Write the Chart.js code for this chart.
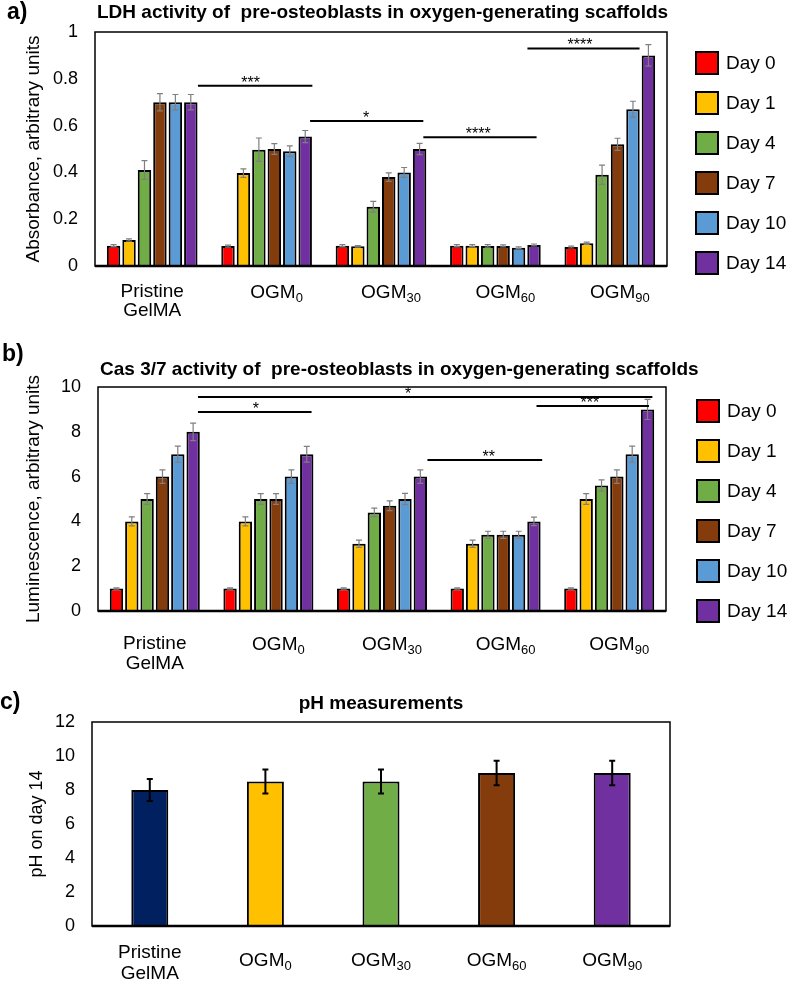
<!DOCTYPE html>
<html lang="en">
<head>
<meta charset="UTF-8">
<title>LDH, Cas 3/7 and pH of pre-osteoblasts in oxygen-generating scaffolds</title>
<script src="https://cdn.jsdelivr.net/npm/chart.js"></script>
<style>
    body{margin:0;background:#fff;width:789px;height:983px;position:relative;overflow:hidden}
    .panel{position:absolute;left:0;width:789px}
    #panelA{top:0;height:330px}
    #panelB{top:330px;height:360px}
    #panelC{top:690px;height:293px}
</style>
</head>
<body>
<div class="panel" id="panelA"><canvas id="ldhChart"></canvas></div>
<div class="panel" id="panelB"><canvas id="casChart"></canvas></div>
<div class="panel" id="panelC"><canvas id="phChart"></canvas></div>
<script>
// ---- data ----
const groups = ['Pristine GelMA', 'OGM0', 'OGM30', 'OGM60', 'OGM90'];
const days = ['Day 0', 'Day 1', 'Day 4', 'Day 7', 'Day 10', 'Day 14'];

// a) LDH absorbance, one array per day (across groups)
const ldhDay0  = [0.087, 0.085, 0.087, 0.087, 0.081];
const ldhDay1  = [0.111, 0.397, 0.084, 0.087, 0.097];
const ldhDay4  = [0.41, 0.497, 0.253, 0.086, 0.39];
const ldhDay7  = [0.70, 0.50, 0.38, 0.086, 0.52];
const ldhDay10 = [0.70, 0.49, 0.40, 0.078, 0.67];
const ldhDay14 = [0.70, 0.553, 0.50, 0.09, 0.90];
const ldhErr0  = [0.004, 0.004, 0.004, 0.004, 0.004];
const ldhErr1  = [0.005, 0.018, 0.003, 0.004, 0.005];
const ldhErr4  = [0.04, 0.05, 0.023, 0.005, 0.041];
const ldhErr7  = [0.037, 0.023, 0.018, 0.004, 0.026];
const ldhErr10 = [0.033, 0.023, 0.021, 0.004, 0.034];
const ldhErr14 = [0.033, 0.026, 0.024, 0.004, 0.046];
const ldhTicks = [0, 0.2, 0.4, 0.6, 0.8, 1];
// significance bars (category units / y units)
const ldhSigFrom = [0.40, 1.38, 2.37, 3.28];
const ldhSigTo   = [1.40, 2.37, 3.36, 4.26];
const ldhSigY    = [0.77, 0.62, 0.55, 0.93];
const ldhSigAt   = [0.86, 1.87, 2.85, 3.74];
const ldhSigText = ['***', '*', '****', '****'];

// b) Cas 3/7 luminescence
const casDay0  = [1, 1, 1, 1, 1];
const casDay1  = [4, 4, 3, 3, 5];
const casDay4  = [5, 5, 4.4, 3.4, 5.6];
const casDay7  = [6, 5, 4.7, 3.4, 6];
const casDay10 = [7, 6, 5, 3.4, 7];
const casDay14 = [8, 7, 6, 4, 9];
const casErr0  = [0.03, 0.03, 0.03, 0.03, 0.03];
const casErr1  = [0.2, 0.2, 0.16, 0.16, 0.24];
const casErr4  = [0.24, 0.24, 0.19, 0.16, 0.25];
const casErr7  = [0.3, 0.24, 0.22, 0.16, 0.3];
const casErr10 = [0.36, 0.3, 0.25, 0.16, 0.36];
const casErr14 = [0.39, 0.35, 0.3, 0.19, 0.45];
const casTicks = [0, 2, 4, 6, 8, 10];
const casSigFrom = [0.38, 0.38, 2.40, 3.36];
const casSigTo   = [4.38, 1.38, 3.41, 4.35];
const casSigY    = [9.55, 8.88, 6.74, 9.15];
const casSigAt   = [2.23, 0.89, 2.94, 3.83];
const casSigText = ['*', '*', '**', '***'];

// c) pH on day 14
const phValues = [8, 8.5, 8.5, 9, 9];
const phErr    = [0.65, 0.7, 0.7, 0.72, 0.72];
const phTicks  = [0, 2, 4, 6, 8, 10, 12];

// ---- styles ----
const FONT = "'Liberation Sans', Arial, Helvetica, sans-serif";
const dayColors = ['#FF0000', '#FFC000', '#70AD47', '#843C0C', '#5B9BD5', '#7030A0'];
const phColors = ['#002060', '#FFC000', '#70AD47', '#843C0C', '#7030A0'];

const deco = {
    id: 'deco',
    afterDatasetsDraw(chart, args, o) {
        const {ctx, chartArea: a, scales: {x, y}} = chart;
        ctx.save();
        // error bars
        chart.data.datasets.forEach((ds, i) => {
            chart.getDatasetMeta(i).data.forEach((bar, j) => {
                const v = ds.data[j], e = ds.errors[j];
                const t = y.getPixelForValue(v + e), b = y.getPixelForValue(v - e);
                ctx.strokeStyle = o.errColor;
                ctx.lineWidth = o.errWidth;
                ctx.beginPath();
                ctx.moveTo(bar.x, t); ctx.lineTo(bar.x, b);
                ctx.moveTo(bar.x - o.cap, t); ctx.lineTo(bar.x + o.cap, t);
                ctx.moveTo(bar.x - o.cap, b); ctx.lineTo(bar.x + o.cap, b);
                ctx.stroke();
            });
        });
        // plot frame
        ctx.strokeStyle = '#000';
        ctx.lineWidth = 1.5;
        ctx.strokeRect(a.left, a.top, a.width, a.height);
        ctx.lineWidth = 2.5;
        ctx.beginPath(); ctx.moveTo(a.left, a.bottom); ctx.lineTo(a.right, a.bottom); ctx.stroke();

        // significance bars
        if (o.sig) {
            ctx.lineWidth = 2;
            ctx.fillStyle = '#000';
            ctx.font = '16px ' + FONT;
            ctx.textAlign = 'center';
            ctx.textBaseline = 'alphabetic';
            o.sig.from.forEach((f, k) => {
                const yy = y.getPixelForValue(o.sig.y[k]);
                ctx.beginPath();
                ctx.moveTo(x.getPixelForValue(f), yy);
                ctx.lineTo(x.getPixelForValue(o.sig.to[k]), yy);
                ctx.stroke();
                ctx.fillText(o.sig.text[k], x.getPixelForValue(o.sig.at[k]), yy + 2);
            });
        }

        // legend
        if (o.legend) {
            chart.data.datasets.forEach((ds, i) => {
                const cy = o.legend.top + i * o.legend.step;
                ctx.fillStyle = ds.backgroundColor;
                ctx.fillRect(o.legend.x, cy - 11, 22, 22);
                ctx.lineWidth = 2;
                ctx.strokeStyle = '#000';
                ctx.strokeRect(o.legend.x, cy - 11, 22, 22);
                ctx.fillStyle = '#000';
                ctx.font = '19px ' + FONT;
                ctx.textAlign = 'left';
                ctx.textBaseline = 'middle';
                ctx.fillText(ds.label, o.legend.x + 30, cy + 1);
            });
        }

        // category labels with subscripts
        ctx.fillStyle = '#000';
        ctx.textBaseline = 'alphabetic';
        groups.forEach((g, i) => {
            const cx = x.getPixelForValue(i);
            if (g.startsWith('OGM')) {
                const main = 'OGM', sub = g.slice(3);
                ctx.font = '19px ' + FONT;
                const w1 = ctx.measureText(main).width;
                ctx.font = '13px ' + FONT;
                const w2 = ctx.measureText(sub).width;
                const left = cx + o.lab.shift - (w1 + w2) / 2;
                ctx.textAlign = 'left';
                ctx.font = '19px ' + FONT;
                ctx.fillText(main, left, a.bottom + o.lab.ogm);
                ctx.font = '13px ' + FONT;
                ctx.fillText(sub, left + w1, a.bottom + o.lab.ogm + 4);
            } else {
                const parts = g.split(' ');
                ctx.font = '19px ' + FONT;
                ctx.textAlign = 'center';
                ctx.fillText(parts[0], cx, a.bottom + o.lab.line1);
                ctx.fillText(parts[1], cx, a.bottom + o.lab.line1 + o.lab.gap);
            }
        });

        // title and panel letter
        ctx.font = 'bold 19px ' + FONT;
        if (o.title.center) {
            ctx.textAlign = 'center';
            ctx.fillText(o.title.text, (a.left + a.right) / 2, o.title.base);
        } else {
            ctx.textAlign = 'left';
            ctx.fillText(o.title.text, a.left + 2, o.title.base);
        }
        ctx.font = 'bold 23px ' + FONT;
        ctx.textAlign = 'left';
        ctx.fillText(o.letter.text, o.letter.x, o.letter.base);
        ctx.restore();
    }
};

function options(ticks, yTitle, lay, dec) {
    return {
        responsive: true,
        maintainAspectRatio: false,
        animation: false,
        layout: {padding: {top: lay.top, right: lay.right, left: 0, bottom: 0}},
        plugins: {legend: {display: false}, tooltip: {enabled: false}, deco: dec},
        scales: {
            x: {
                grid: {display: false, drawTicks: false},
                border: {display: false},
                ticks: {display: false},
                afterFit: s => { s.height = lay.xh; }
            },
            y: {
                min: ticks[0],
                max: ticks[ticks.length - 1],
                grid: {display: false, drawTicks: false},
                border: {display: false},
                ticks: {
                    stepSize: ticks[1] - ticks[0],
                    padding: 17,
                    color: '#000',
                    font: {family: FONT, size: 18},
                    callback: v => String(+v.toFixed(1))
                },
                title: {display: true, text: yTitle, color: '#000', font: {family: FONT, size: lay.ts}, padding: {top: lay.tp}},
                afterFit: s => { s.width = lay.left; }
            }
        }
    };
}

function dayDatasets(means, errs) {
    return days.map((d, i) => ({
        label: d,
        data: means[i],
        errors: errs[i],
        backgroundColor: dayColors[i],
        borderColor: '#000',
        borderWidth: 2,
        categoryPercentage: 0.81,
        barPercentage: 0.87
    }));
}

new Chart(document.getElementById('ldhChart'), {
    type: 'bar',
    data: {
        labels: groups,
        datasets: dayDatasets(
            [ldhDay0, ldhDay1, ldhDay4, ldhDay7, ldhDay10, ldhDay14],
            [ldhErr0, ldhErr1, ldhErr4, ldhErr7, ldhErr10, ldhErr14])
    },
    options: options(ldhTicks, 'Absorbance, arbitrary units',
        {top: 32, right: 122, left: 95, xh: 64, ts: 19, tp: 22},
        {errColor: '#7f7f7f', errWidth: 1.2, cap: 3,
         sig: {from: ldhSigFrom, to: ldhSigTo, y: ldhSigY, at: ldhSigAt, text: ldhSigText},
         legend: {x: 696, top: 63, step: 40},
         lab: {line1: 31, gap: 19, ogm: 32, shift: 10},
         title: {text: 'LDH activity of  pre-osteoblasts in oxygen-generating scaffolds', base: 18},
         letter: {text: 'a)', x: 7, base: 19}}),
    plugins: [deco]
});

new Chart(document.getElementById('casChart'), {
    type: 'bar',
    data: {
        labels: groups,
        datasets: dayDatasets(
            [casDay0, casDay1, casDay4, casDay7, casDay10, casDay14],
            [casErr0, casErr1, casErr4, casErr7, casErr10, casErr14])
    },
    options: options(casTicks, 'Luminescence, arbitrary units',
        {top: 57, right: 123, left: 98, xh: 79, ts: 19, tp: 22},
        {errColor: '#7f7f7f', errWidth: 1.2, cap: 3,
         sig: {from: casSigFrom, to: casSigTo, y: casSigY, at: casSigAt, text: casSigText},
         legend: {x: 697, top: 81, step: 40},
         lab: {line1: 38, gap: 20, ogm: 39, shift: 10},
         title: {text: 'Cas 3/7 activity of  pre-osteoblasts in oxygen-generating scaffolds', base: 45},
         letter: {text: 'b)', x: 2, base: 31}}),
    plugins: [deco]
});

new Chart(document.getElementById('phChart'), {
    type: 'bar',
    data: {
        labels: groups,
        datasets: [{
            label: 'pH',
            data: phValues,
            errors: phErr,
            backgroundColor: phColors,
            borderColor: '#000',
            borderWidth: 2,
            categoryPercentage: 1,
            barPercentage: 0.32
        }]
    },
    options: options(phTicks, 'pH on day 14',
        {top: 32, right: 119, left: 92, xh: 57, ts: 18, tp: 26},
        {errColor: '#000', errWidth: 2, cap: 3,
         lab: {line1: 32, gap: 21, ogm: 40, shift: 0},
         title: {text: 'pH measurements', base: 19, center: true},
         letter: {text: 'c)', x: 0, base: 19}}),
    plugins: [deco]
});
</script>
</body>
</html>
